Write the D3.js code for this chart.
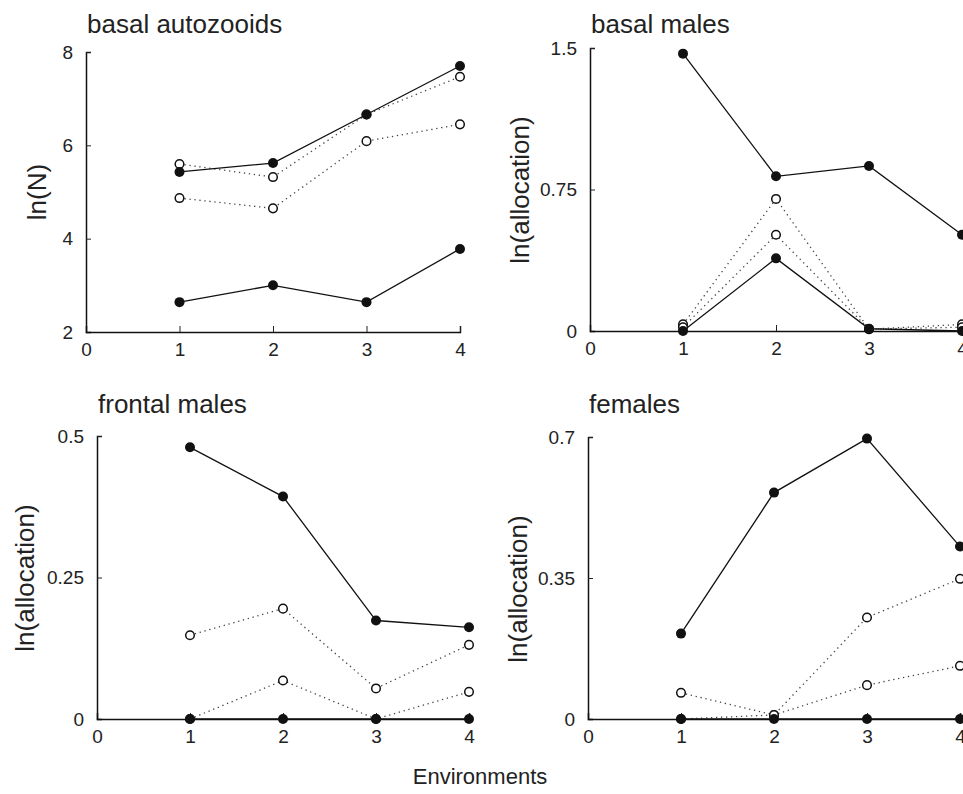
<!DOCTYPE html>
<html>
<head>
<meta charset="utf-8">
<script src="https://cdn.jsdelivr.net/npm/d3@7"></script>
<style>
  body { margin: 0; background: #fff; }
  text { font-family: "Liberation Sans", Arial, Helvetica, sans-serif; fill: #222; }
</style>
</head>
<body>
<div id="chart"></div>
<script>
// ********** FOUR PANEL ALLOCATION CHART **********

// Data
const panelTitles = ['basal autozooids', 'basal males', 'frontal males', 'females'];
const yLabels = ['ln(N)', 'ln(allocation)', 'ln(allocation)', 'ln(allocation)'];
const environments = [1, 2, 3, 4];
const xTicks = [0, 1, 2, 3, 4];

// y ticks per panel
const yTicks1 = [2, 4, 6, 8];
const yTicks2 = [0, 0.75, 1.5];
const yTicks3 = [0, 0.25, 0.5];
const yTicks4 = [0, 0.35, 0.7];

// basal autozooids
const autoFilledA = [5.43, 5.62, 6.66, 7.70];
const autoOpenB = [5.60, 5.32, 6.66, 7.47];
const autoOpenC = [4.87, 4.65, 6.09, 6.45];
const autoFilledD = [2.64, 3.00, 2.64, 3.78];

// basal males
const bmFilledA = [1.47, 0.82, 0.875, 0.51];
const bmOpenB = [0.035, 0.70, 0.01, 0.035];
const bmOpenC = [0.02, 0.51, 0.01, 0.02];
const bmFilledD = [0.0, 0.385, 0.012, 0.0];

// frontal males
const fmFilledA = [0.48, 0.393, 0.174, 0.162];
const fmOpenB = [0.148, 0.195, 0.054, 0.131];
const fmOpenC = [0.0, 0.068, 0.0, 0.048];
const fmFilledD = [0, 0, 0, 0];

// females
const feFilledA = [0.212, 0.562, 0.696, 0.428];
const feOpenB = [0.065, 0.01, 0.084, 0.132];
const feOpenC = [0.0, 0.01, 0.252, 0.348];
const feFilledD = [0, 0, 0, 0];

// Panel geometry (pixels)
const width = 963, height = 794;
const panels = [
	{ x0: 86, x4: 460, yTop: 52, yBot: 332, domain: [2, 8], ticks: yTicks1,
	  filled: [autoFilledA, autoFilledD], open: [autoOpenB, autoOpenC],
	  titleY: 33, labelX: 46, labelY: 192 },
	{ x0: 590, x4: 962, yTop: 48, yBot: 331, domain: [0, 1.5], ticks: yTicks2,
	  filled: [bmFilledA, bmFilledD], open: [bmOpenB, bmOpenC],
	  titleY: 33, labelX: 529, labelY: 190 },
	{ x0: 97, x4: 469, yTop: 436, yBot: 719, domain: [0, 0.5], ticks: yTicks3,
	  filled: [fmFilledA, fmFilledD], open: [fmOpenB, fmOpenC],
	  titleY: 413, labelX: 34, labelY: 578 },
	{ x0: 588, x4: 960, yTop: 437, yBot: 719, domain: [0, 0.7], ticks: yTicks4,
	  filled: [feFilledA, feFilledD], open: [feOpenB, feOpenC],
	  titleY: 413, labelX: 527, labelY: 589 }
];

const svg = d3.select('#chart')
	.append('svg')
	.attr('width', width)
	.attr('height', height);

const fmt = d => String(d);

const renderPanel = (p, i) => {
	const x = d3.scaleLinear().domain([0, 4]).range([p.x0, p.x4]);
	const y = d3.scaleLinear().domain(p.domain).range([p.yBot, p.yTop]);
	const g = svg.append('g').attr('class', `panel panel-${i}`);

	// title
	g.append('text')
		.attr('x', p.x0 + 1)
		.attr('y', p.titleY)
		.attr('font-size', 26)
		.text(panelTitles[i]);

	// y label
	g.append('text')
		.attr('transform', `translate(${p.labelX}, ${p.labelY}) rotate(-90)`)
		.attr('text-anchor', 'middle')
		.attr('font-size', 26)
		.text(yLabels[i]);

	// axes - ticks point inward
	const yAxis = d3.axisLeft(y)
		.tickValues(p.ticks)
		.tickSize(-5)
		.tickPadding(13)
		.tickFormat(fmt);
	const yG = g.append('g')
		.attr('transform', `translate(${p.x0},0)`)
		.call(yAxis);

	const xAxis = d3.axisBottom(x)
		.tickValues(xTicks)
		.tickSize(-6)
		.tickPadding(11)
		.tickFormat(fmt);
	const xG = g.append('g')
		.attr('transform', `translate(0,${p.yBot})`)
		.call(xAxis);

	[yG, xG].forEach(a => {
		a.select('.domain').attr('stroke', '#111').attr('stroke-width', 1.5);
		a.selectAll('.tick line').attr('stroke', '#222').attr('stroke-width', 1);
		a.selectAll('.tick text')
			.attr('font-size', 19)
			.attr('fill', '#333')
			.attr('font-family', '"Liberation Sans", Arial, sans-serif');
	});
	// no tick mark at the origin on the x axis
	xG.selectAll('.tick').filter(d => d === 0).select('line').remove();

	const line = d3.line()
		.x((d, j) => x(environments[j]))
		.y(d => y(d));

	// dotted series
	p.open.forEach(s => {
		g.append('path')
			.datum(s)
			.attr('d', line)
			.attr('fill', 'none')
			.attr('stroke', '#444')
			.attr('stroke-width', 1.3)
			.attr('stroke-dasharray', '1.3,3.7');
	});

	// solid series
	p.filled.forEach(s => {
		g.append('path')
			.datum(s)
			.attr('d', line)
			.attr('fill', 'none')
			.attr('stroke', '#111')
			.attr('stroke-width', 1.3);
	});

	// open markers
	p.open.forEach(s => {
		g.selectAll(null)
			.data(s)
			.enter()
			.append('circle')
			.attr('cx', (d, j) => x(environments[j]))
			.attr('cy', d => y(d))
			.attr('r', 4.3)
			.attr('fill', '#fff')
			.attr('stroke', '#111')
			.attr('stroke-width', 1.5);
	});

	// filled markers
	p.filled.forEach(s => {
		g.selectAll(null)
			.data(s)
			.enter()
			.append('circle')
			.attr('cx', (d, j) => x(environments[j]))
			.attr('cy', d => y(d))
			.attr('r', 5)
			.attr('fill', '#111');
	});
}

panels.forEach(renderPanel);

// shared x label
svg.append('text')
	.attr('x', 480)
	.attr('y', 784)
	.attr('text-anchor', 'middle')
	.attr('font-size', 22)
	.text('Environments');
</script>
</body>
</html>
